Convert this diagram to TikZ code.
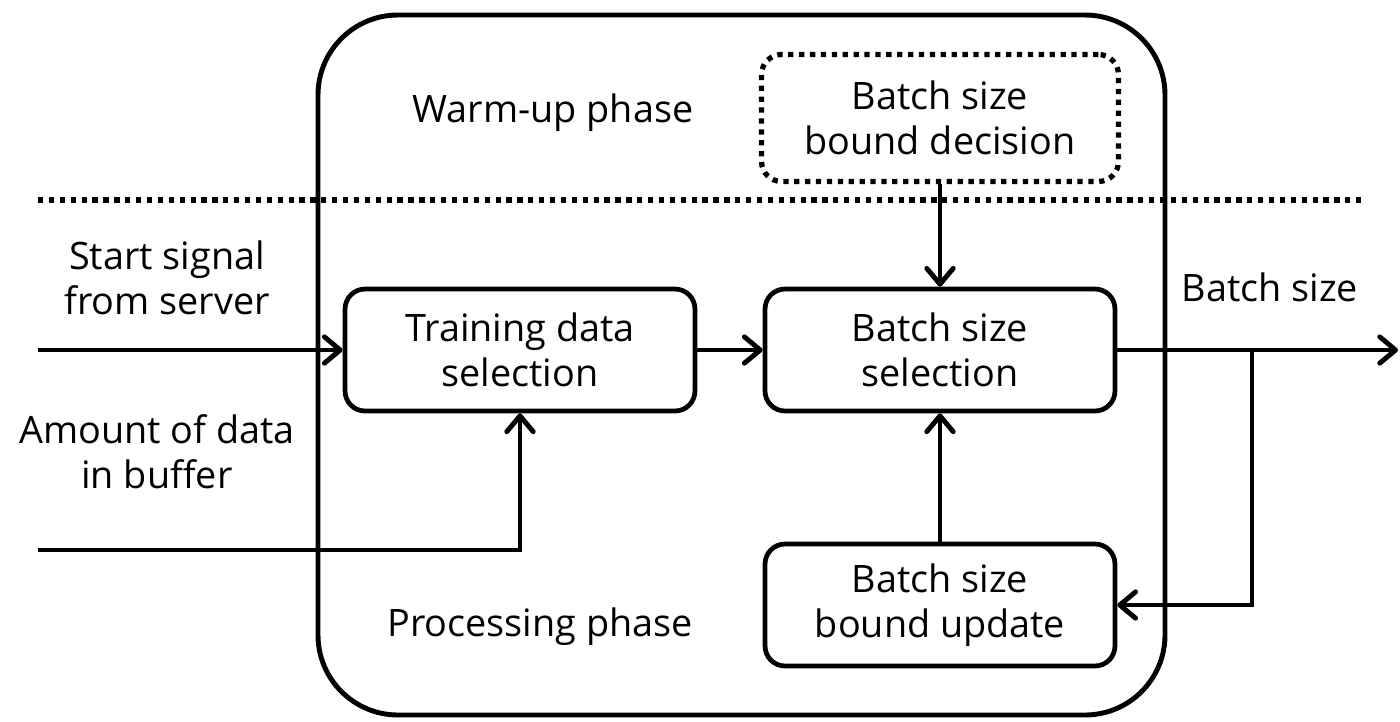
\documentclass[tikz,border=0pt]{standalone}
\usepackage{fontspec}
\setmainfont{Open Sans}
\usetikzlibrary{arrows.meta}

\begin{document}
\begin{tikzpicture}[x=0.02cm, y=-0.02cm, font=\fontsize{21.5}{25.5}\selectfont,
        blk/.style={draw, line width=2.7pt, rounded corners=0.4cm, align=center,
            minimum width=7cm, minimum height=2.44cm, inner sep=0pt},
        dotbox/.style={blk, line width=3pt, dash pattern=on 3pt off 3.2pt,
            minimum width=7.14cm, minimum height=2.54cm},
        lbl/.style={align=center, inner sep=0pt},
        flow/.style={line width=2.8pt, -{Straight Barb[length=9pt, width=15pt, round]}}]
        \useasboundingbox (0,0) rectangle (1400,721);
        \draw[line width=2.8pt, rounded corners=1.6cm] (318,15) rectangle (1165,715);
        \draw[line width=3pt, dash pattern=on 3pt off 3.2pt] (38,200) -- (1365,200);
        \node[lbl] (warmup) at (553,113) {Warm-up phase};
        \node[lbl] (process) at (540,627) {Processing phase};
        \node[dotbox] (bsd) at (940,118) {Batch size\\bound decision};
        \node[blk] (tds) at (520,350) {Training data\\selection};
        \node[blk] (bss) at (940,350) {Batch size\\selection};
        \node[blk] (bsu) at (940,605) {Batch size\\bound update};
        \node[lbl] (start) at (167,278) {Start signal\\from server};
        \node[lbl] (amount) at (157,452) {Amount of data\\in buffer};
        \node[lbl] (bsout) at (1270,287) {Batch size};
        \coordinate (in1) at (38,350);
        \coordinate (in2) at (38,550);
        \coordinate (split) at (1252,350);
        \coordinate (out) at (1398,350);
        \draw[flow] (in1) -- (tds);
        \draw[flow] (in2) -| (tds);
        \draw[flow] (tds) -- (bss);
        \draw[flow] (bsd) -- (bss);
        \draw[flow] (bsu) -- (bss);
        \draw[flow] (bss) -- (out);
        \draw[flow] (split) |- (bsu);
    \end{tikzpicture}
\end{document}
